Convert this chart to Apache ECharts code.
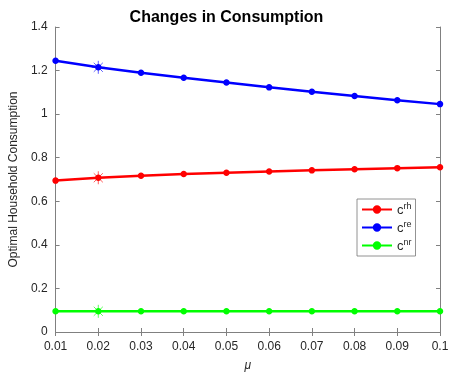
<!DOCTYPE html>
<html><head><meta charset="utf-8">
<script src="https://cdn.jsdelivr.net/npm/echarts@6/dist/echarts.min.js"></script>
<style>html,body{margin:0;padding:0;background:#fff}#c{width:453px;height:377px}</style>
</head><body><div id="c"></div>
<script>
const muLabels = ['0.01','0.02','0.03','0.04','0.05','0.06','0.07','0.08','0.09','0.1'];
const cRH = [0.695,0.708,0.717,0.725,0.731,0.737,0.742,0.747,0.752,0.756];
const cRE = [1.245,1.215,1.190,1.167,1.145,1.123,1.103,1.083,1.064,1.046];
const cNR = [0.095,0.095,0.095,0.095,0.095,0.095,0.095,0.095,0.095,0.095];
const starIndex = 1;

const chart = echarts.init(document.getElementById('c'));
const font = 'Liberation Sans, Arial, sans-serif';
const star = 'path://M10,0 L10,20 M0,10 L20,10 M3,3 L17,17 M17,3 L3,17';
function lineSeries(name, data, color){
  return {
    name, type:'line', data, xAxisIndex:0, yAxisIndex:0,
    symbol:'circle', symbolSize:5,
    itemStyle:{color:color, borderColor:color, borderWidth:1.5},
    lineStyle:{color, width:2.5},
    emphasis:{disabled:true}, z:3
  };
}
function starSeries(data, color){
  return {
    type:'scatter', data: data.map((v,i)=> i===starIndex ? [i,v] : null).filter(d=>d),
    symbol: star, symbolSize:13, silent:true,
    itemStyle:{color:'none', borderColor:color, borderWidth:0.8, opacity:0.8}, z:4
  };
}
chart.setOption({
  animation:false,
  title:{text:'Changes in Consumption', left:'center', top:5,
    textStyle:{fontFamily:font, fontWeight:'bold', fontSize:16, color:'#000'}},
  grid:{left:52, right:13, top:27, bottom:45, show:false},
  legend:{
    orient:'vertical', left:357, top:199, itemWidth:30, itemHeight:8, itemGap:3,
    backgroundColor:'#fff', borderColor:'#777', borderWidth:0.8, padding:[3,4,3,4],
    data:['rh','re','nr'],
    formatter: n => '{b|c}{s|' + n + '}',
    textStyle:{fontFamily:font, rich:{b:{fontSize:13, color:'#262626', verticalAlign:'bottom'}, s:{fontSize:9, color:'#262626', verticalAlign:'top', padding:[0,0,6,0]}}}
  },
  xAxis:[{
    type:'category', data:muLabels, boundaryGap:false,
    name:'μ', nameLocation:'middle', nameGap:28,
    nameTextStyle:{fontFamily:font, fontStyle:'italic', fontSize:12, color:'#262626'},
    axisLine:{lineStyle:{color:'#808080', width:1}},
    axisTick:{inside:true, length:4, lineStyle:{color:'#808080'}},
    axisLabel:{fontFamily:font, fontSize:12, color:'#262626', margin:9},
    splitLine:{show:false}
  },{
    type:'category', data:muLabels, boundaryGap:false, position:'top',
    axisLine:{lineStyle:{color:'#808080', width:1}},
    axisTick:{inside:true, length:4, lineStyle:{color:'#808080'}},
    axisLabel:{show:false}
  }],
  yAxis:[{
    type:'value', min:0, max:1.4, interval:0.2,
    name:'Optimal Household Consumption', nameLocation:'middle', nameGap:30,
    nameTextStyle:{fontFamily:font, fontSize:12, color:'#262626'},
    axisLine:{show:true, lineStyle:{color:'#808080', width:1}},
    axisTick:{show:true, inside:true, length:4, lineStyle:{color:'#808080'}},
    axisLabel:{fontFamily:font, fontSize:12, color:'#262626', margin:8,
      formatter: v => String(Math.round(v*10)/10)},
    splitLine:{show:false}
  },{
    type:'value', min:0, max:1.4, interval:0.2, position:'right',
    axisLine:{show:true, lineStyle:{color:'#808080', width:1}},
    axisTick:{show:true, inside:true, length:4, lineStyle:{color:'#808080'}},
    axisLabel:{show:false}, splitLine:{show:false}
  }],
  series:[
    lineSeries('rh', cRH, '#ff0000'),
    lineSeries('re', cRE, '#0000ff'),
    lineSeries('nr', cNR, '#00ff00'),
    starSeries(cRH, '#ff0000'),
    starSeries(cRE, '#0000ff'),
    starSeries(cNR, '#00ff00')
  ]
});
</script></body></html>
